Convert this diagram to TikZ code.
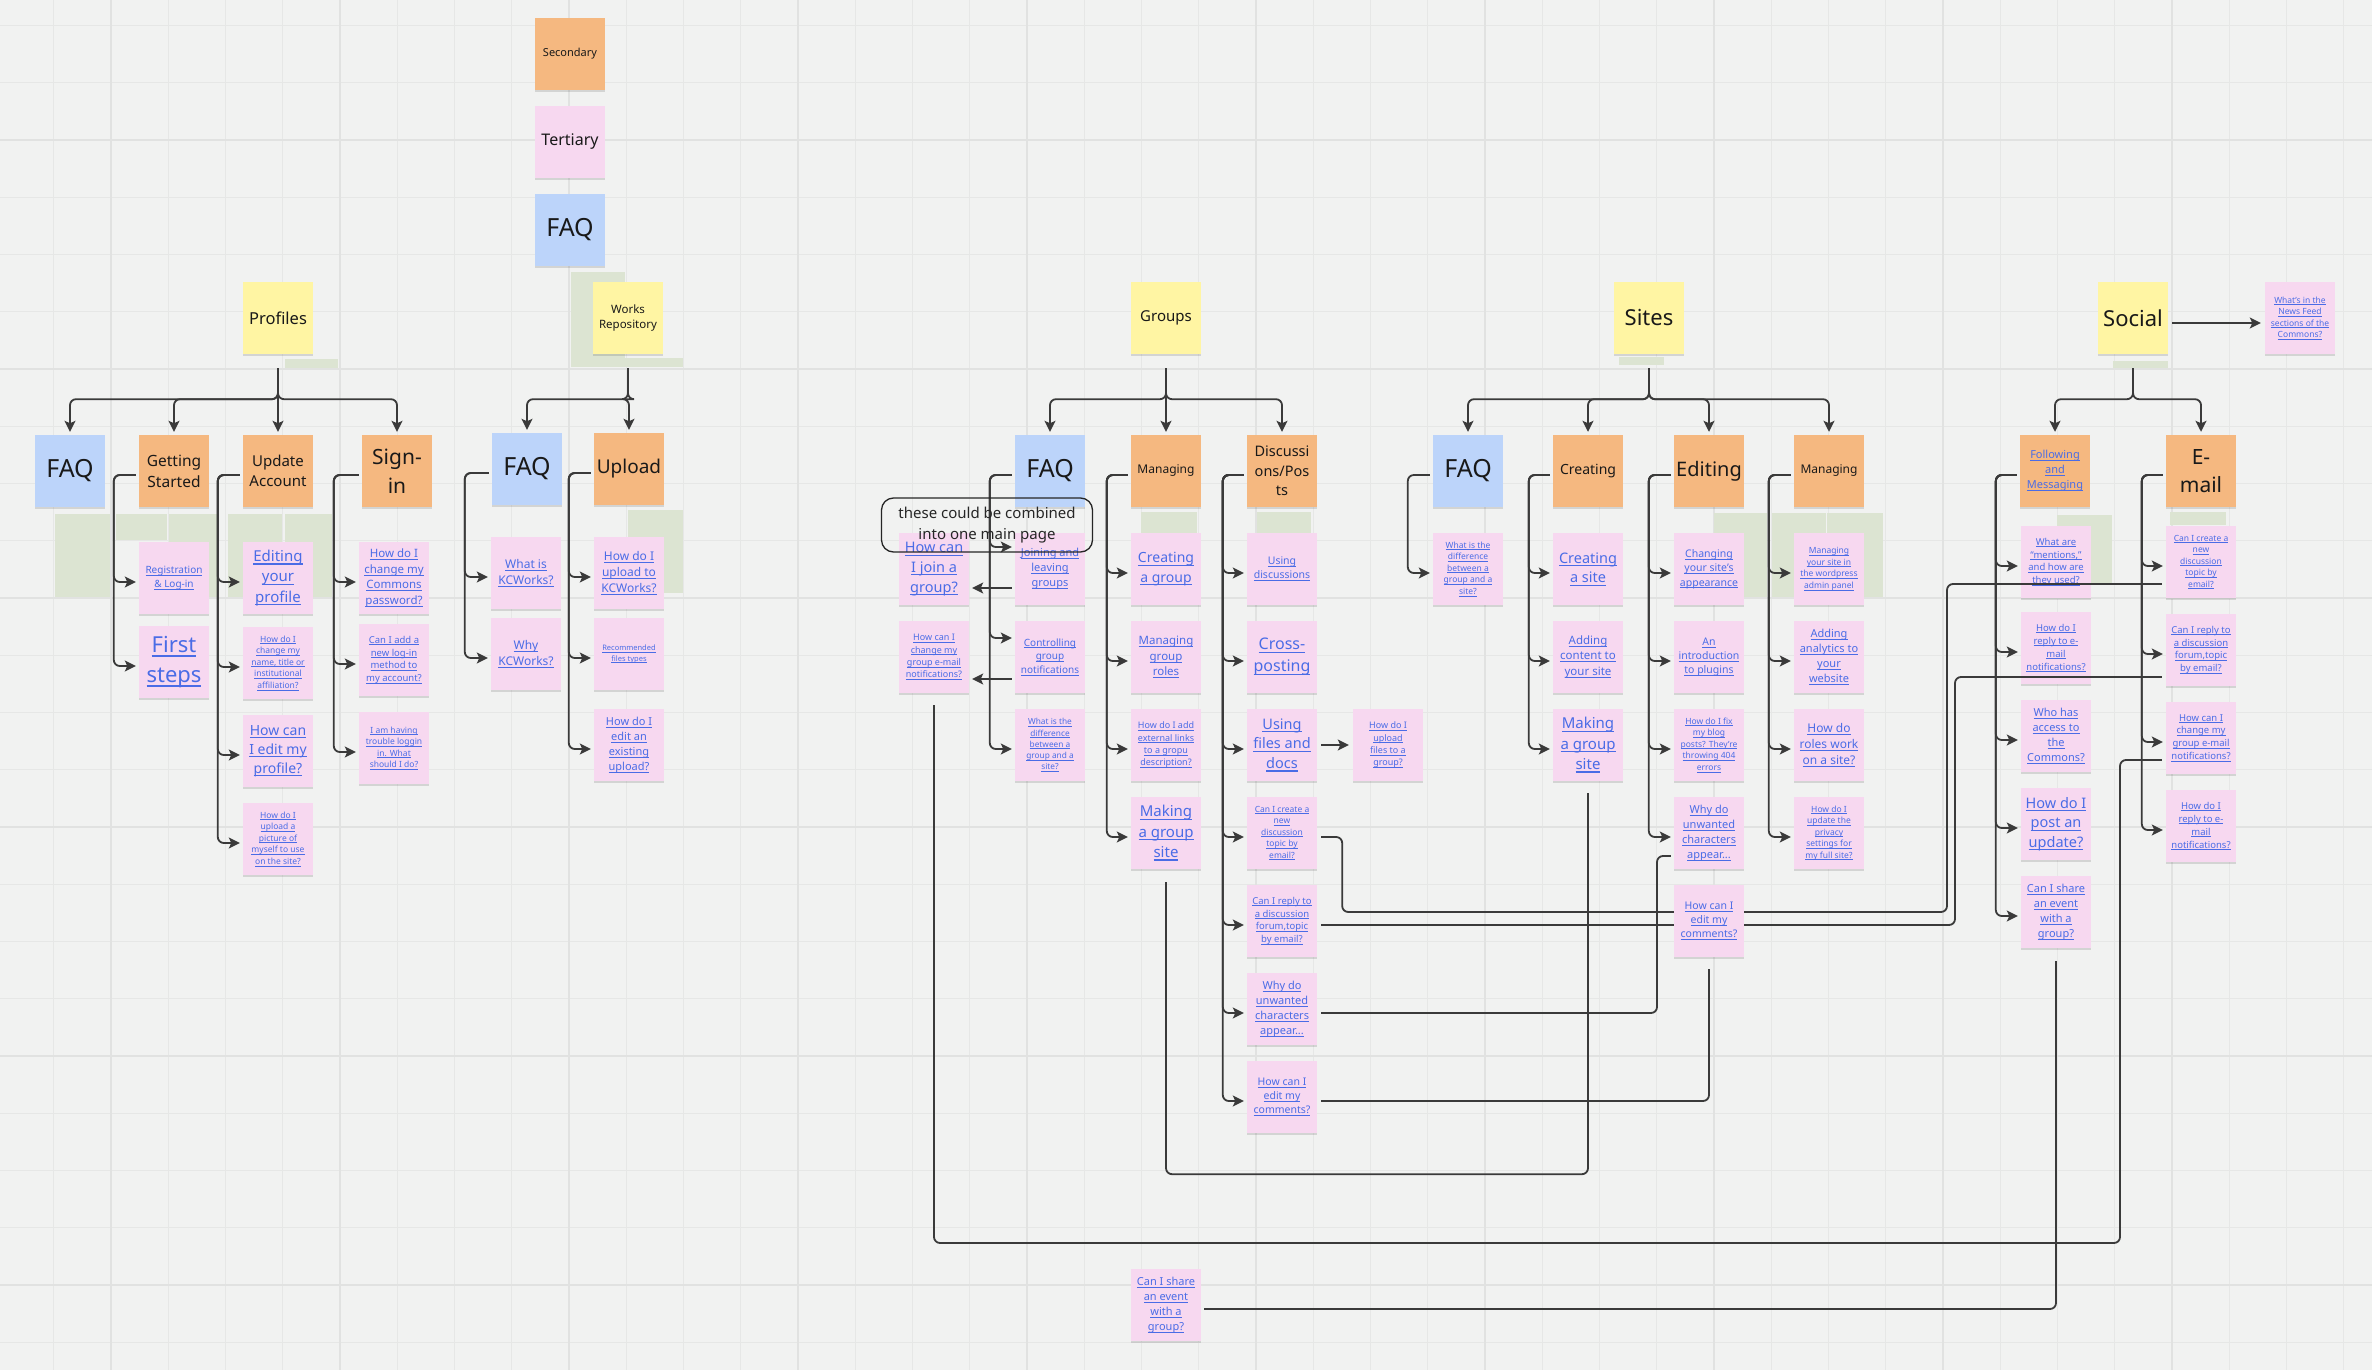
\documentclass[tikz,border=0pt]{standalone}
\usepackage{fontspec}
\setmainfont{Noto Sans}
\usetikzlibrary{arrows.meta,shadows}
\definecolor{orng}{HTML}{F5B880}
\definecolor{yel}{HTML}{FFF5A3}
\definecolor{blu}{HTML}{BCD4FA}
\definecolor{pnk}{HTML}{F7D8F0}
\definecolor{lnk}{HTML}{4A6CE6}
\definecolor{lc}{HTML}{3A3A3A}
\definecolor{bgc}{HTML}{F1F2F1}
\definecolor{gridc}{HTML}{E6E7E6}
\definecolor{gridm}{HTML}{E1E2E1}
\definecolor{hatch}{HTML}{DCE4D2}
\newcommand\fs[1]{\fontsize{#1}{\fpeval{1.36*#1}}\selectfont}
\newcommand\uli[1]{\setbox0\hbox{#1}\rlap{\rule[-0.2em]{\wd0}{0.075em}}\box0}
\ExplSyntaxOn
\NewDocumentCommand\lk{m}{
  \seq_set_split:Nnn \l_tmpa_seq {|} {#1}
  \seq_map_indexed_inline:Nn \l_tmpa_seq
    { \int_compare:nNnT {##1} > {1} { \\ } \uli{##2} }
}
\ExplSyntaxOff
\pgfdeclarelayer{grid}
\pgfdeclarelayer{lines}
\pgfdeclarelayer{over}
\pgfdeclarelayer{topcards}
\pgfsetlayers{grid,lines,main,over,topcards}
\tikzset{
  note/.style={minimum width=70pt, minimum height=72pt, inner sep=1pt, align=center,
    drop shadow={shadow xshift=0pt, shadow yshift=-2pt, opacity=0.12, fill=black}},
  ynote/.style={note, fill=yel, text=black!90},
  onote/.style={note, fill=orng, text=black!90},
  bnote/.style={note, fill=blu, text=black!90},
  pnote/.style={note, fill=pnk, text=lnk},
  conn/.style={draw=lc, line width=1.8pt, rounded corners=6pt},
  arr/.style={conn, -{Stealth[length=11pt,width=11pt,inset=2.5pt]}},
}
\newcommand\bus[2]{\draw[arr] ([yshift=-14pt]#1.south) -- ++(0,31) -| ([yshift=3pt]#2.north);}
\newcommand\sub[3]{\draw[arr] ([xshift=-3pt,yshift=-4pt]#1.west) -- ++(#3,0) |- ([xshift=-3pt,yshift=-4pt]#2.west);}
\begin{document}
\begin{tikzpicture}[x=1pt,y=-1pt]
\useasboundingbox (0,0) rectangle (2372,1370);
\begin{pgfonlayer}{grid}
\fill[bgc] (0,0) rectangle (2372,1370);
\foreach \i in {0,...,41} {\draw[gridc, line width=1pt] ({53.75+57.25*\i},0) -- ++(0,1370);}
\foreach \i in {0,...,23} {\draw[gridc, line width=1pt] (0,{25.5+57.25*\i}) -- ++(2372,0);}
\foreach \i in {0,...,10} {\draw[gridm, line width=1.6pt] ({111+229*\i},0) -- ++(0,1370);}
\foreach \i in {0,...,5} {\draw[gridm, line width=1.6pt] (0,{140+229*\i}) -- ++(2372,0);}
\foreach \a/\b/\c/\d in {55/514/110/597, 116/514/167/540, 169/514/217/597, 228/514/282/597, 285/514/332/597,
  285/359/338/368, 571/272/625/367, 625/358/683/367, 628/510/683/593,
  1141/512/1197/533, 1257/512/1311/533, 1714/513/1767/597, 1772/513/1826/597, 1827/513/1883/597,
  2113/361/2168/368, 2057/515/2112/583, 2170/512/2226/525, 1619/357/1664/365}
  {\fill[hatch] (\a,\b) rectangle (\c,\d);}
\end{pgfonlayer}

% legend
\node[onote,font=\fs{11}] (lsec) at (570,54) {Secondary};
\node[pnote,text=black!90,font=\fs{16}] (lter) at (570,142) {Tertiary};
\node[bnote,font=\fs{25}] (lfaq) at (570,230) {FAQ};

% Profiles
\node[ynote,font=\fs{16.5}] (prof) at (278,318) {Profiles};
\node[bnote,font=\fs{25}] (pfaq) at (70,471) {FAQ};
\node[onote,font=\fs{15.5}] (gs) at (174,471) {Getting\\Started};
\node[onote,font=\fs{15}] (ua) at (278,471) {Update\\Account};
\node[onote,font=\fs{21}] (si) at (397,471) {Sign-\\in};
\node[pnote,font=\fs{10}] (gs1) at (174,578) {\lk{Registration|\& Log-in}};
\node[pnote,font=\fs{22}] (gs2) at (174,662) {\lk{First|steps}};
\node[pnote,font=\fs{15}] (ua1) at (278,578) {\lk{Editing|your|profile}};
\node[pnote,font=\fs{8.5}] (ua2) at (278,663) {\lk{How do I|change my|name, title or|institutional|affiliation?}};
\node[pnote,font=\fs{14}] (ua3) at (278,751) {\lk{How can|I edit my|profile?}};
\node[pnote,font=\fs{8.5}] (ua4) at (278,839) {\lk{How do I|upload a|picture of|myself to use|on the site?}};
\node[pnote,font=\fs{11.5}] (si1) at (394,578) {\lk{How do I|change my|Commons|password?}};
\node[pnote,font=\fs{9.5}] (si2) at (394,660) {\lk{Can I add a|new log-in|method to|my account?}};
\node[pnote,font=\fs{8.5}] (si3) at (394,748) {\lk{I am having|trouble loggin|in. What|should I do?}};

% Works Repository
\node[ynote,font=\fs{11.5}] (wr) at (628,318) {Works\\Repository};
\node[bnote,font=\fs{25}] (wfaq) at (527,469) {FAQ};
\node[onote,font=\fs{19}] (upl) at (629,469) {Upload};
\node[pnote,font=\fs{12}] (wf1) at (526,573) {\lk{What is|KCWorks?}};
\node[pnote,font=\fs{12}] (wf2) at (526,654) {\lk{Why|KCWorks?}};
\node[pnote,font=\fs{12}] (up1) at (629,573) {\lk{How do I|upload to|KCWorks?}};
\node[pnote,font=\fs{7.5}] (up2) at (629,654) {\lk{Recommended|files types}};
\node[pnote,font=\fs{11}] (up3) at (629,745) {\lk{How do I|edit an|existing|upload?}};

% Groups
\node[ynote,font=\fs{15}] (grp) at (1166,318) {Groups};
\node[bnote,font=\fs{25}] (gfaq) at (1050,471) {FAQ};
\node[onote,font=\fs{12}] (gman) at (1166,471) {Managing};
\node[onote,font=\fs{14.5}] (gdis) at (1282,471) {Discussi\\ons/Pos\\ts};
\node[pnote,font=\fs{11}] (gj) at (1050,569) {\lk{Joining and|leaving|groups}};
\node[pnote,font=\fs{10}] (gc) at (1050,657) {\lk{Controlling|group|notifications}};
\node[pnote,font=\fs{8.3}] (gw) at (1050,745) {\lk{What is the|difference|between a|group and a|site?}};
\node[pnote,font=\fs{14.5}] (gq1) at (934,569) {\lk{How can|I join a|group?}};
\node[pnote,font=\fs{9}] (gq2) at (934,657) {\lk{How can I|change my|group e-mail|notifications?}};
\node[pnote,font=\fs{14}] (gm1) at (1166,569) {\lk{Creating|a group}};
\node[pnote,font=\fs{11.5}] (gm2) at (1166,657) {\lk{Managing|group|roles}};
\node[pnote,font=\fs{9}] (gm3) at (1166,745) {\lk{How do I add|external links|to a gropu|description?}};
\node[pnote,font=\fs{15}] (gm4) at (1166,833) {\lk{Making|a group|site}};
\node[pnote,font=\fs{10.5}] (gd1) at (1282,569) {\lk{Using|discussions}};
\node[pnote,font=\fs{16}] (gd2) at (1282,657) {\lk{Cross-|posting}};
\node[pnote,font=\fs{14.5}] (gd3) at (1282,745) {\lk{Using|files and|docs}};
\node[pnote,font=\fs{8.5}] (gd4) at (1282,833) {\lk{Can I create a|new|discussion|topic by|email?}};
\node[pnote,font=\fs{9.5}] (gd5) at (1282,921) {\lk{Can I reply to|a discussion|forum,topic|by email?}};
\node[pnote,font=\fs{11}] (gd6) at (1282,1009) {\lk{Why do|unwanted|characters|appear...}};
\node[pnote,font=\fs{10.5}] (gd7) at (1282,1097) {\lk{How can I|edit my|comments?}};
\node[pnote,font=\fs{9}] (gup) at (1388,745) {\lk{How do I|upload|files to a|group?}};
\node[pnote,font=\fs{11}] (share2) at (1166,1305) {\lk{Can I share|an event|with a|group?}};
\node[draw=black!85, line width=1.3pt, rounded corners=12pt, minimum width=211pt, minimum height=54pt,
  inner sep=1pt, align=center, font=\fs{15}, text=black!85] (bub) at (987,525) {these could be combined\\into one main page};

% Sites
\node[ynote,font=\fs{22}] (sit) at (1649,318) {Sites};
\node[bnote,font=\fs{25}] (sfaq) at (1468,471) {FAQ};
\node[onote,font=\fs{14}] (scr) at (1588,471) {Creating};
\node[onote,font=\fs{20}] (sed) at (1709,471) {Editing};
\node[onote,font=\fs{12}] (sman) at (1829,471) {Managing};
\node[pnote,font=\fs{8.5}] (sf1) at (1468,569) {\lk{What is the|difference|between a|group and a|site?}};
\node[pnote,font=\fs{14.5}] (sc1) at (1588,569) {\lk{Creating|a site}};
\node[pnote,font=\fs{11.5}] (sc2) at (1588,657) {\lk{Adding|content to|your site}};
\node[pnote,font=\fs{15}] (sc3) at (1588,745) {\lk{Making|a group|site}};
\node[pnote,font=\fs{10.5}] (se1) at (1709,569) {\lk{Changing|your site's|appearance}};
\node[pnote,font=\fs{10.5}] (se2) at (1709,657) {\lk{An|introduction|to plugins}};
\node[pnote,font=\fs{8.5}] (se3) at (1709,745) {\lk{How do I fix|my blog|posts? They're|throwing 404|errors}};
\node[pnote,font=\fs{11}] (se4) at (1709,833) {\lk{Why do|unwanted|characters|appear...}};
\begin{pgfonlayer}{topcards}
\node[pnote,font=\fs{10.5}] (se5) at (1709,921) {\lk{How can I|edit my|comments?}};
\end{pgfonlayer}
\node[pnote,font=\fs{8.5}] (sm1) at (1829,569) {\lk{Managing|your site in|the wordpress|admin panel}};
\node[pnote,font=\fs{11}] (sm2) at (1829,657) {\lk{Adding|analytics to|your|website}};
\node[pnote,font=\fs{12}] (sm3) at (1829,745) {\lk{How do|roles work|on a site?}};
\node[pnote,font=\fs{8.5}] (sm4) at (1829,833) {\lk{How do I|update the|privacy|settings for|my full site?}};

% Social
\node[ynote,font=\fs{22}] (soc) at (2133,318) {Social};
\node[pnote,font=\fs{8.5}] (news) at (2300,318) {\lk{What's in the|News Feed|sections of the|Commons?}};
\node[onote,font=\fs{11},text=lnk] (fol) at (2055,471) {\lk{Following|and|Messaging}};
\node[onote,font=\fs{21}] (em) at (2201,471) {E-\\mail};
\node[pnote,font=\fs{9.5}] (fo1) at (2056,562) {\lk{What are|“mentions,”|and how are|they used?}};
\node[pnote,font=\fs{9.5}] (fo2) at (2056,648) {\lk{How do I|reply to e-|mail|notifications?}};
\node[pnote,font=\fs{11}] (fo3) at (2056,736) {\lk{Who has|access to|the|Commons?}};
\node[pnote,font=\fs{14.5}] (fo4) at (2056,824) {\lk{How do I|post an|update?}};
\node[pnote,font=\fs{11}] (fo5) at (2056,912) {\lk{Can I share|an event|with a|group?}};
\node[pnote,font=\fs{8.5}] (em1) at (2201,562) {\lk{Can I create a|new|discussion|topic by|email?}};
\node[pnote,font=\fs{9.5}] (em2) at (2201,650) {\lk{Can I reply to|a discussion|forum,topic|by email?}};
\node[pnote,font=\fs{9.5}] (em3) at (2201,738) {\lk{How can I|change my|group e-mail|notifications?}};
\node[pnote,font=\fs{9.5}] (em4) at (2201,826) {\lk{How do I|reply to e-|mail|notifications?}};

\begin{pgfonlayer}{lines}
% top-level buses
\foreach \c in {pfaq,gs,ua,si} {\bus{prof}{\c}}
\foreach \c in {wfaq,upl} {\bus{wr}{\c}}
\foreach \c in {gfaq,gman,gdis} {\bus{grp}{\c}}
\foreach \c in {sfaq,scr,sed,sman} {\bus{sit}{\c}}
\foreach \c in {fol,em} {\bus{soc}{\c}}
\draw[arr] ([xshift=4pt,yshift=-5pt]soc.east) -- ([xshift=-4pt,yshift=-5pt]news.west);
% sub connectors
\foreach \c in {gs1,gs2} {\sub{gs}{\c}{-22}}
\foreach \c in {ua1,ua2,ua3,ua4} {\sub{ua}{\c}{-22}}
\foreach \c in {si1,si2,si3} {\sub{si}{\c}{-25}}
\foreach \c in {wf1,wf2} {\sub{wfaq}{\c}{-24}}
\foreach \c in {up1,up2,up3} {\sub{upl}{\c}{-22}}
\foreach \c in {gm1,gm2,gm3,gm4} {\sub{gman}{\c}{-21}}
\foreach \c in {gd1,gd2,gd3,gd4,gd5,gd6,gd7} {\sub{gdis}{\c}{-21}}
\sub{sfaq}{sf1}{-22}
\foreach \c in {sc1,sc2,sc3} {\sub{scr}{\c}{-21}}
\foreach \c in {se1,se2,se3,se4} {\sub{sed}{\c}{-22}}
\foreach \c in {sm1,sm2,sm3,sm4} {\sub{sman}{\c}{-22}}
\foreach \c in {fo1,fo2,fo3,fo4,fo5} {\sub{fol}{\c}{-21}}
\foreach \c in {em1,em2,em3,em4} {\sub{em}{\c}{-21}}
\draw[arr] ([xshift=-3pt,yshift=-4pt]gfaq.west) -- ++(-22,0) |- ([xshift=-3pt,yshift=22pt]gj.west);
\draw[arr] ([xshift=-3pt,yshift=-4pt]gfaq.west) -- ++(-22,0) |- ([xshift=-3pt,yshift=19pt]gc.west);
\draw[arr] ([xshift=-3pt,yshift=-4pt]gfaq.west) -- ++(-22,0) |- ([xshift=-3pt,yshift=-4pt]gw.west);
\draw[arr] ([xshift=-3pt,yshift=-19pt]gj.west) -- ([xshift=3pt,yshift=-19pt]gq1.east);
\draw[arr] ([xshift=-3pt,yshift=-22pt]gc.west) -- ([xshift=3pt,yshift=-22pt]gq2.east);
\draw[arr] ([xshift=4pt]gd3.east) -- ([xshift=-4pt]gup.west);
% long connectors
\draw[conn] ([yshift=-12pt]gq2.south) |- (2120,1243) |- ([xshift=-4pt,yshift=-22pt]em3.west);
\draw[conn] ([yshift=-13pt]gm4.south) -- ++(0,292) -| ([yshift=-12pt]sc3.south);
\draw[conn] ([yshift=-13pt]fo5.south) |- ([xshift=3pt,yshift=-4pt]share2.east);
\draw[conn] ([xshift=4pt,yshift=-4pt]gd6.east) -| (1657,856) -- ([xshift=-3pt,yshift=-23pt]se4.west);
\draw[conn] ([xshift=4pt,yshift=-4pt]gd7.east) -| ([yshift=-12pt]se5.south);
\end{pgfonlayer}
\begin{pgfonlayer}{over}
\draw[conn] ([xshift=4pt,yshift=-4pt]gd4.east) -- ++(21,0) |- (1947,912) |- ([xshift=-4pt,yshift=-22pt]em1.west);
\draw[conn] ([xshift=4pt,yshift=-4pt]gd5.east) -| (1955,677) -- ([xshift=-4pt,yshift=-27pt]em2.west);
\end{pgfonlayer}
\end{tikzpicture}
\end{document}
